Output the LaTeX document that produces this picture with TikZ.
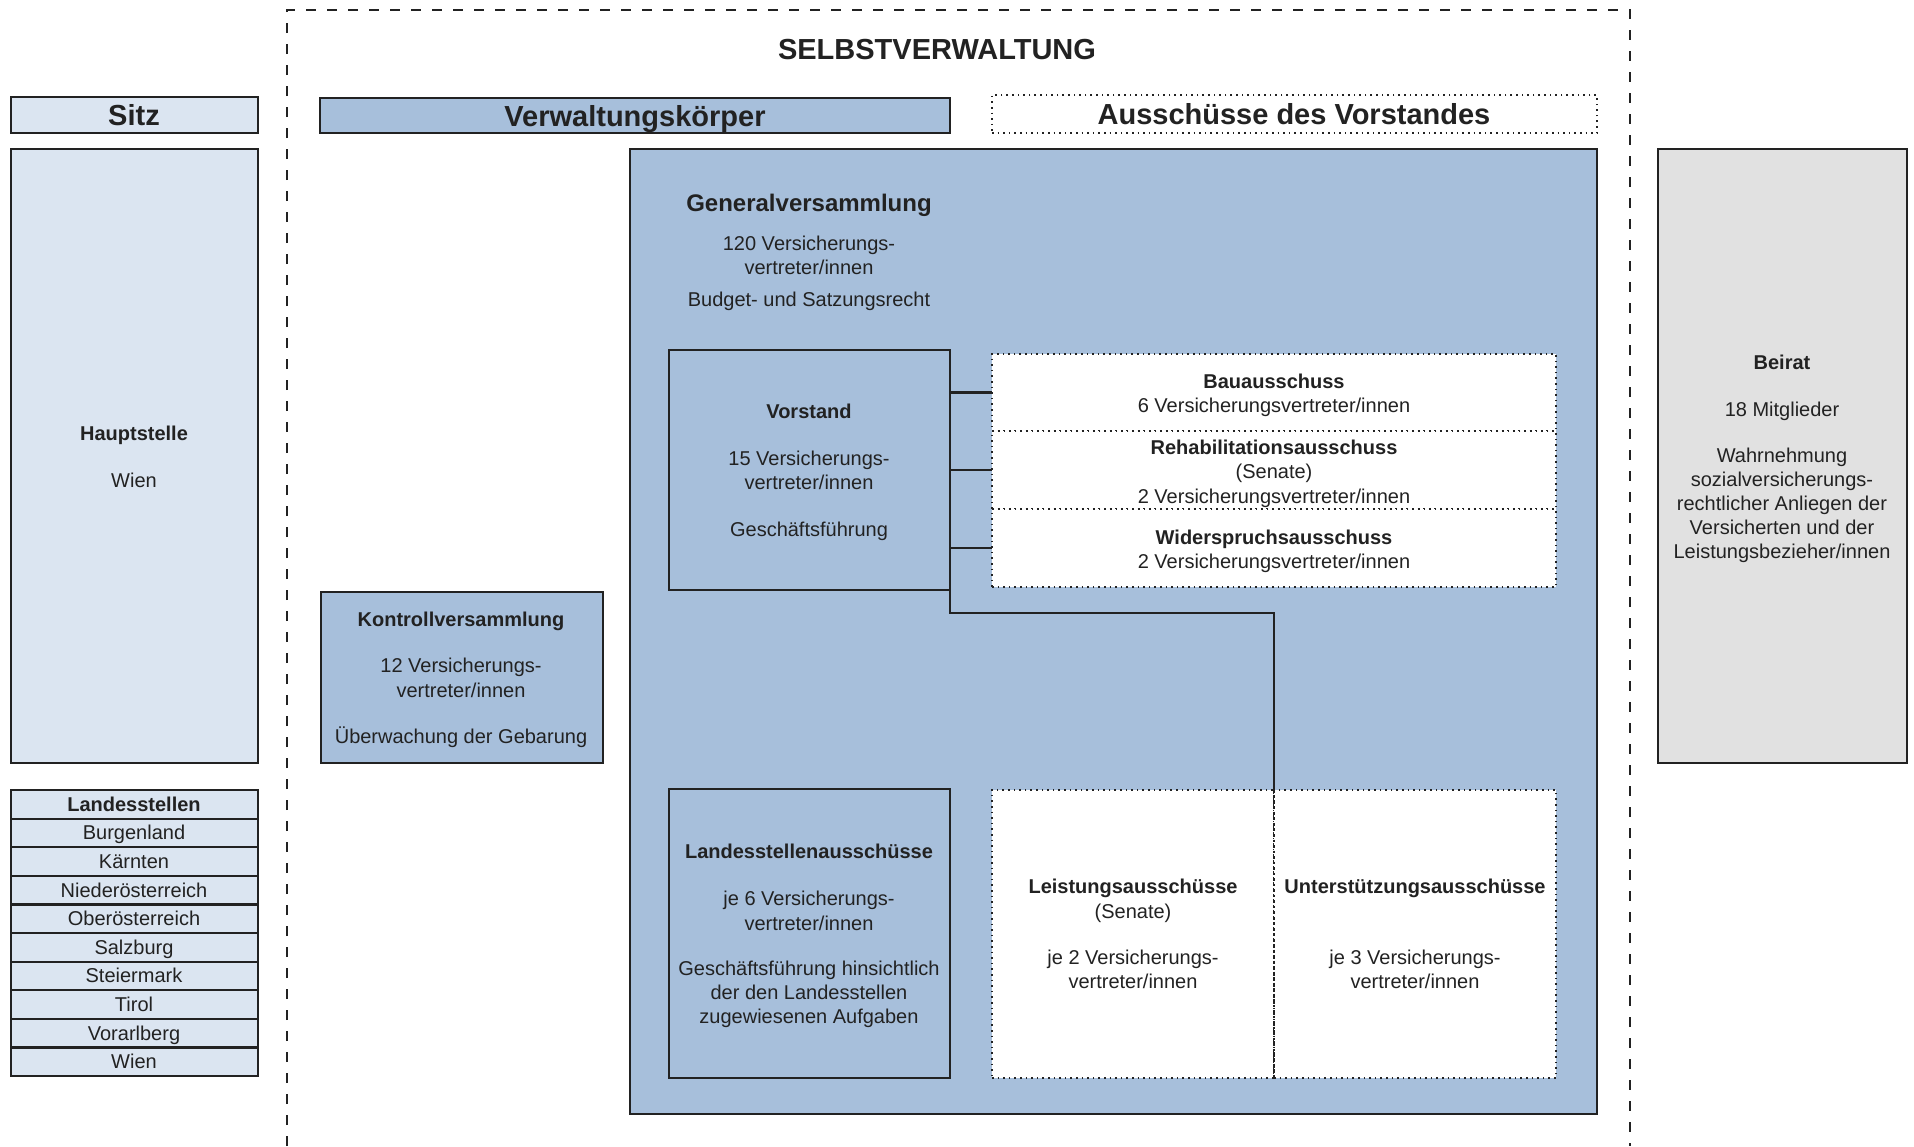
\documentclass[tikz,border=0pt]{standalone}
\usepackage{fontspec}
\setmainfont{Liberation Sans}
\definecolor{ink}{HTML}{222222}
\definecolor{paleblue}{HTML}{DBE5F1}
\definecolor{midblue}{HTML}{A7BFDB}
\definecolor{palegrey}{HTML}{E1E1E1}
\newcommand\fs{\fontsize{20}{24}\selectfont}
\newcommand\fm{\fontsize{24}{29}\selectfont}
\newcommand\fh{\fontsize{29}{34}\selectfont}
\tikzset{
  box/.style={draw=ink, line width=2.2pt, inner sep=0pt, outer sep=0pt, anchor=north west},
  dotbox/.style={draw=ink, line width=1.6pt, dash pattern=on 1.6pt off 4pt, fill=white,
                 inner sep=0pt, outer sep=0pt, anchor=north west},
  txt/.style={anchor=base, inner sep=0pt, text=ink, font=\fs},
  bold/.style={txt, font=\fs\bfseries},
  midhead/.style={anchor=base, inner sep=0pt, text=ink, font=\fm\bfseries},
  head/.style={anchor=base, inner sep=0pt, text=ink, font=\fh\bfseries},
  link/.style={draw=ink, line width=2.2pt},
  frame/.style={draw=ink, line width=2pt, dash pattern=on 10pt off 11pt},
}
\begin{document}
\begin{tikzpicture}[x=1pt, y=-1pt]
\useasboundingbox (0,0) rectangle (1914,1146);

% outer frame of the self-administration, open at the bottom
\coordinate (fbl) at (287,1146);
\coordinate (ftl) at (287,10);
\coordinate (ftr) at (1630,10);
\coordinate (fbr) at (1630,1146);
\draw[frame] (fbl) -- (ftl) -- (ftr) -- (fbr);
\node[head] (title) at (937,59) {SELBSTVERWALTUNG};

% left column: seat and regional offices
\node[box, fill=paleblue, minimum width=247pt, minimum height=36pt] (sitz) at (11,97) {};
\node[head] (sitzT) at (134,125) {Sitz};
\node[box, fill=paleblue, minimum width=247pt, minimum height=614pt] (haupt) at (11,149) {};
\node[bold] (hauptT) at (134,440) {Hauptstelle};
\node[txt] (hauptW) at (134,487) {Wien};

\foreach \name [count=\i from 0] in {Burgenland, Kärnten, Niederösterreich, Oberösterreich,
    Salzburg, Steiermark, Tirol, Vorarlberg, Wien} {
  \node[box, fill=paleblue, minimum width=247pt, minimum height=28.6pt]
    (ls\i) at (11,{790+28.6*(\i+1)}) {};
  \node[txt] (lsT\i) at (134,{790+28.6*(\i+1.5)+7}) {\name};
}
\node[box, fill=paleblue, minimum width=247pt, minimum height=28.6pt] (lshead) at (11,790) {};
\node[bold] (lsheadT) at (134,811.3) {Landesstellen};

% headers of the middle part
\node[box, fill=midblue, minimum width=630pt, minimum height=35pt] (vk) at (320,98) {};
\node[head] (vkT) at (635,126) {Verwaltungskörper};
\node[dotbox, minimum width=605pt, minimum height=38pt] (adv) at (992,95) {};
\node[head] (advT) at (1294,124) {Ausschüsse des Vorstandes};

% general assembly
\node[box, fill=midblue, minimum width=967pt, minimum height=965pt] (gv) at (630,149) {};
\node[midhead] (gvT) at (809,211) {Generalversammlung};
\node[txt] (gv1) at (809,250) {120 Versicherungs-};
\node[txt] (gv2) at (809,274) {vertreter/innen};
\node[txt] (gv3) at (809,306) {Budget- und Satzungsrecht};

% board
\node[box, fill=midblue, minimum width=281pt, minimum height=240pt] (vorstand) at (669,350) {};
\node[bold] (voT) at (809,418) {Vorstand};
\node[txt] (vo1) at (809,465) {15 Versicherungs-};
\node[txt] (vo2) at (809,489) {vertreter/innen};
\node[txt] (vo3) at (809,536) {Geschäftsführung};

% committees of the board
\node[dotbox, minimum width=564pt, minimum height=77pt] (bau) at (992,354) {};
\node[dotbox, minimum width=564pt, minimum height=78pt] (reha) at (992,431) {};
\node[dotbox, minimum width=564pt, minimum height=78pt] (wid) at (992,509) {};
\node[bold] (bauT) at (1274,388) {Bauausschuss};
\node[txt] (bau1) at (1274,412) {6 Versicherungsvertreter/innen};
\node[bold] (rehaT) at (1274,454) {Rehabilitationsausschuss};
\node[txt] (reha1) at (1274,478) {(Senate)};
\node[txt] (reha2) at (1274,503) {2 Versicherungsvertreter/innen};
\node[bold] (widT) at (1274,544) {Widerspruchsausschuss};
\node[txt] (wid1) at (1274,568) {2 Versicherungsvertreter/innen};

\draw[link] (bau.west -| vorstand.east) -- (bau.west);
\draw[link] (reha.west -| vorstand.east) -- (reha.west);
\draw[link] (wid.west -| vorstand.east) -- (wid.west);

% control assembly
\node[box, fill=midblue, minimum width=282pt, minimum height=171pt] (kv) at (321,592) {};
\node[bold] (kvT) at (461,626) {Kontrollversammlung};
\node[txt] (kv1) at (461,672) {12 Versicherungs-};
\node[txt] (kv2) at (461,697) {vertreter/innen};
\node[txt] (kv3) at (461,743) {Überwachung der Gebarung};

% regional committees
\node[box, fill=midblue, minimum width=281pt, minimum height=289pt] (lsa) at (669,789) {};
\node[bold] (lsaT) at (809,858) {Landesstellenausschüsse};
\node[txt] (lsa1) at (809,905) {je 6 Versicherungs-};
\node[txt] (lsa2) at (809,930) {vertreter/innen};
\node[txt] (lsa3) at (809,975) {Geschäftsführung hinsichtlich};
\node[txt] (lsa4) at (809,999) {der den Landesstellen};
\node[txt] (lsa5) at (809,1023) {zugewiesenen Aufgaben};

% benefit and support committees
\node[dotbox, minimum width=282pt, minimum height=288pt] (leist) at (992,790) {};
\node[dotbox, minimum width=282pt, minimum height=288pt] (unter) at (1274,790) {};
\draw[draw=ink, line width=1.4pt, dash pattern=on 2.5pt off 3pt] (leist.north east) -- (leist.south east);
\node[bold] (leT) at (1133,893) {Leistungsausschüsse};
\node[txt] (le1) at (1133,918) {(Senate)};
\node[txt] (le2) at (1133,964) {je 2 Versicherungs-};
\node[txt] (le3) at (1133,988) {vertreter/innen};
\node[bold] (unT) at (1415,893) {Unterstützungsausschüsse};
\node[txt] (un1) at (1415,964) {je 3 Versicherungs-};
\node[txt] (un2) at (1415,988) {vertreter/innen};

\coordinate (bend) at (950,613);
\draw[link] (vorstand.south east) -- (bend) -| (leist.north east);

% advisory council
\node[box, fill=palegrey, minimum width=249pt, minimum height=614pt] (beirat) at (1658,149) {};
\node[bold] (beT) at (1782,369) {Beirat};
\node[txt] (be1) at (1782,416) {18 Mitglieder};
\node[txt] (be2) at (1782,462) {Wahrnehmung};
\node[txt] (be3) at (1782,486) {sozialversicherungs-};
\node[txt] (be4) at (1782,510) {rechtlicher Anliegen der};
\node[txt] (be5) at (1782,534) {Versicherten und der};
\node[txt] (be6) at (1782,558) {Leistungsbezieher/innen};
\end{tikzpicture}
\end{document}
